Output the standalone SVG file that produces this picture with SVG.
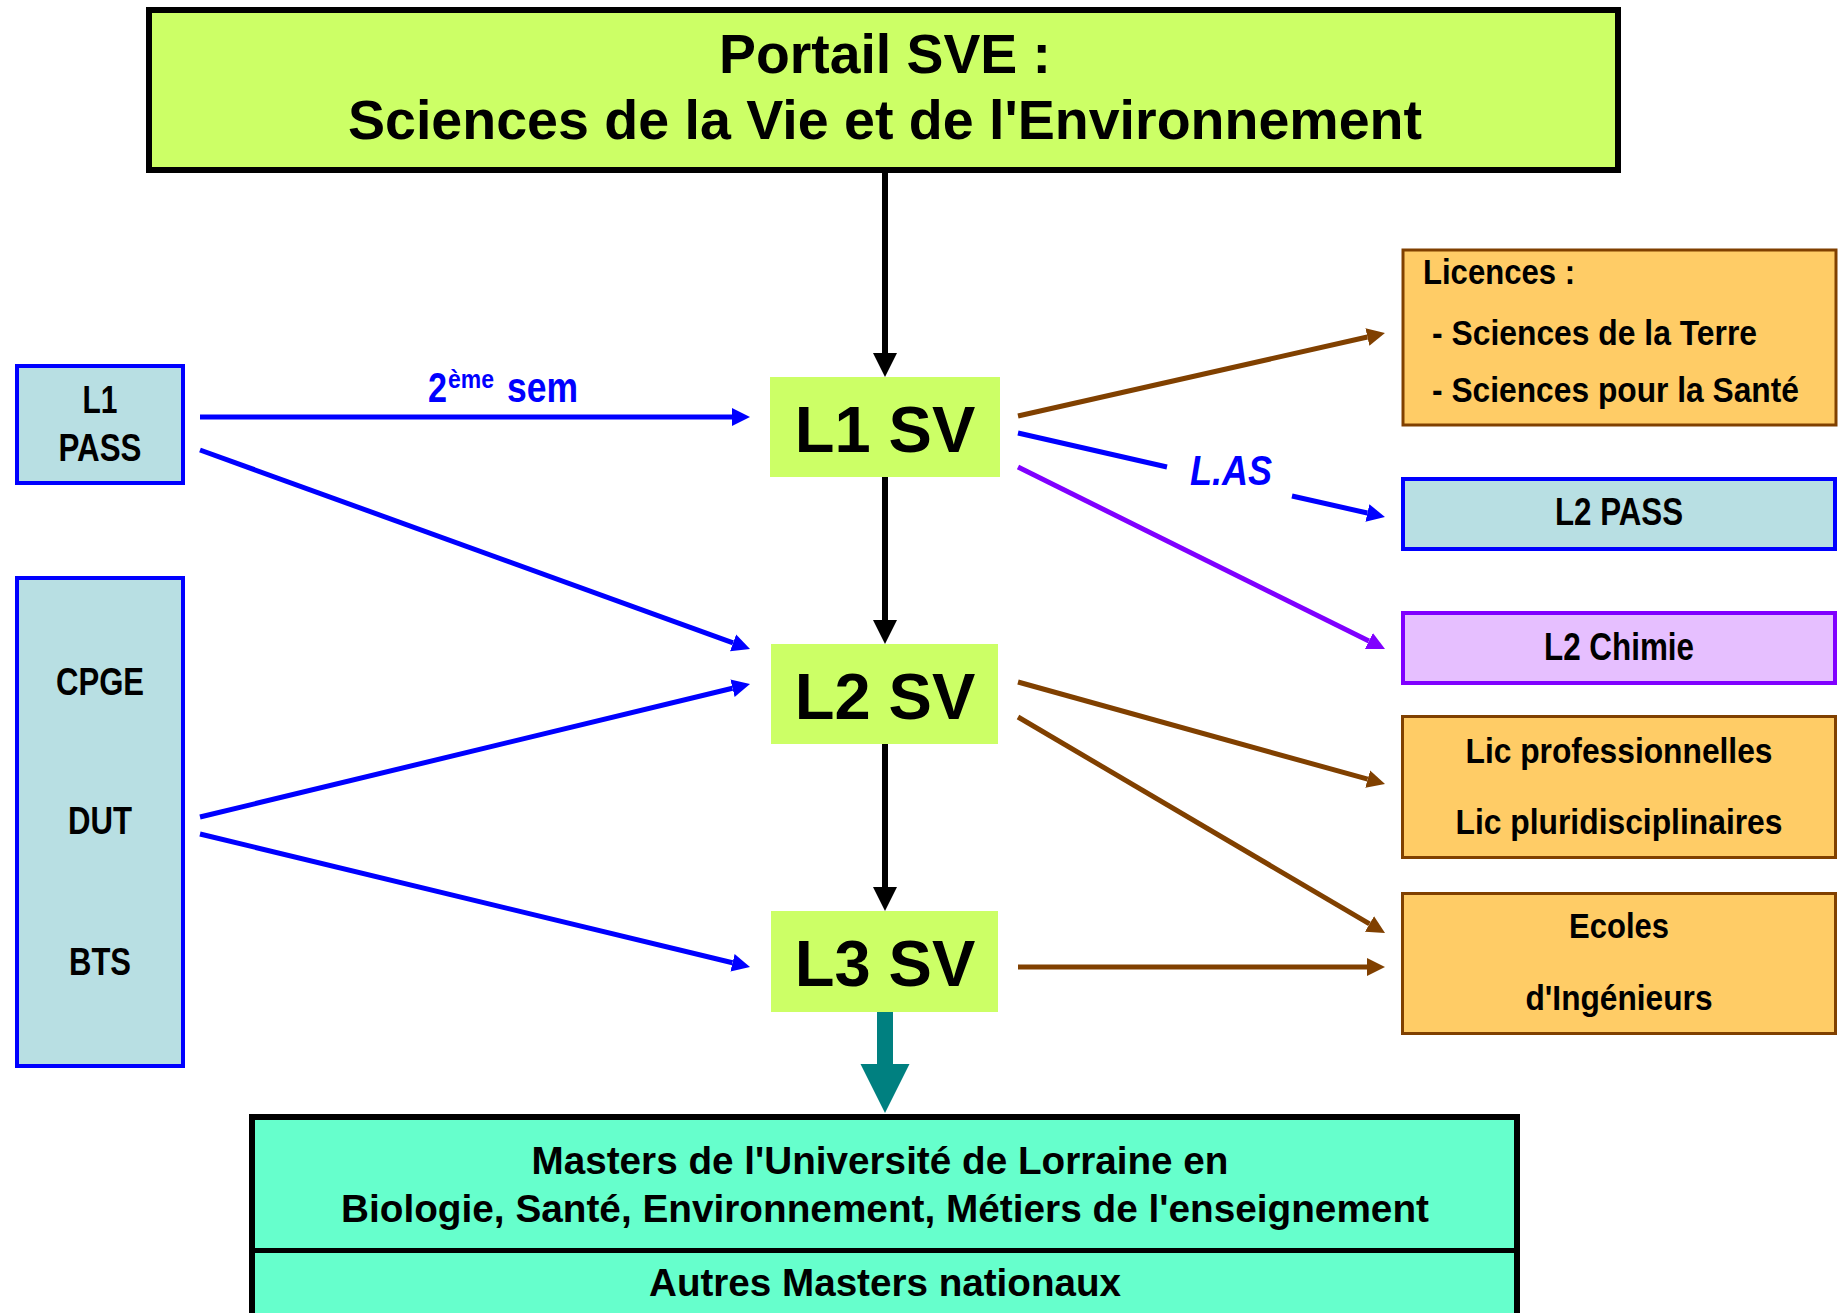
<svg xmlns="http://www.w3.org/2000/svg" width="1838" height="1313" viewBox="0 0 1838 1313">
<style>
.t{font-family:"Liberation Sans",Arial,sans-serif;font-weight:bold;fill:#000}
.n{font-family:"Liberation Sans Narrow","Arial Narrow","Liberation Sans",sans-serif;font-weight:bold;fill:#000}
.c{text-anchor:middle}
.green{fill:#CCFF66}
.orange{fill:#FFCC66;stroke:#804000;stroke-width:3}
.pale{fill:#B8DFE3;stroke:#0000FF;stroke-width:4}
.blk{stroke:#000;stroke-width:6;fill:none}
.blue{stroke:#0000FF;stroke-width:5;fill:none}
.brown{stroke:#804000;stroke-width:5;fill:none}
.purple{stroke:#8000FF;stroke-width:5;fill:none}
</style>
<defs>
<marker id="hk" markerUnits="userSpaceOnUse" viewBox="0 -13 25 26" refX="0" refY="0" markerWidth="25" markerHeight="26" orient="auto"><path d="M0,-12 L24,0 L0,12 Z" fill="#000"/></marker>
<marker id="hb" markerUnits="userSpaceOnUse" viewBox="0 -10 20 20" refX="0" refY="0" markerWidth="20" markerHeight="20" orient="auto"><path d="M0,-9 L18,0 L0,9 Z" fill="#0000FF"/></marker>
<marker id="hr" markerUnits="userSpaceOnUse" viewBox="0 -10 20 20" refX="0" refY="0" markerWidth="20" markerHeight="20" orient="auto"><path d="M0,-9 L18,0 L0,9 Z" fill="#804000"/></marker>
<marker id="hp" markerUnits="userSpaceOnUse" viewBox="0 -10 20 20" refX="0" refY="0" markerWidth="20" markerHeight="20" orient="auto"><path d="M0,-9 L18,0 L0,9 Z" fill="#8000FF"/></marker>
<marker id="ht" markerUnits="userSpaceOnUse" viewBox="0 -26 50 52" refX="0" refY="0" markerWidth="50" markerHeight="52" orient="auto"><path d="M0,-24.5 L49,0 L0,24.5 Z" fill="#008080"/></marker>
</defs>
<rect width="1838" height="1313" fill="#fff"/>

<g id="connectors">
<line class="blk" x1="885" y1="173" x2="885" y2="353" marker-end="url(#hk)"/>
<line class="blk" x1="885" y1="477" x2="885" y2="620" marker-end="url(#hk)"/>
<line class="blk" x1="885" y1="744" x2="885" y2="887" marker-end="url(#hk)"/>
<line x1="885" y1="1011" x2="885" y2="1064" stroke="#008080" stroke-width="16" marker-end="url(#ht)"/>
<line class="blue" x1="200" y1="417" x2="732" y2="417" marker-end="url(#hb)"/>
<line class="blue" x1="200" y1="450" x2="733.1" y2="642.9" marker-end="url(#hb)"/>
<line class="blue" x1="200" y1="817" x2="732.5" y2="688.2" marker-end="url(#hb)"/>
<line class="blue" x1="200" y1="834" x2="732.5" y2="962.8" marker-end="url(#hb)"/>
<line class="brown" x1="1018" y1="416" x2="1367.4" y2="337" marker-end="url(#hr)"/>
<line class="blue" x1="1018" y1="433" x2="1167" y2="467"/>
<line class="blue" x1="1292" y1="496" x2="1367.4" y2="513" marker-end="url(#hb)"/>
<line class="purple" x1="1018" y1="467" x2="1368.9" y2="641" marker-end="url(#hp)"/>
<line class="brown" x1="1018" y1="682" x2="1367.7" y2="779.2" marker-end="url(#hr)"/>
<line class="brown" x1="1018" y1="717" x2="1369.5" y2="923.9" marker-end="url(#hr)"/>
<line class="brown" x1="1018" y1="967" x2="1367" y2="967" marker-end="url(#hr)"/>
<text class="n" y="402" style="fill:#0000FF" font-size="42"><tspan x="428" textLength="19" lengthAdjust="spacingAndGlyphs">2</tspan><tspan x="448" y="388" font-size="26" textLength="46" lengthAdjust="spacingAndGlyphs">ème</tspan> <tspan x="507" y="402" textLength="71" lengthAdjust="spacingAndGlyphs">sem</tspan></text>
<text class="n c" x="1231" y="485" style="fill:#0000FF;font-style:italic" font-size="42" textLength="82" lengthAdjust="spacingAndGlyphs">L.AS</text>
</g>

<g id="portail">
<rect x="149" y="10" width="1469" height="160" fill="#CCFF66" stroke="#000" stroke-width="6"/>
<text class="t c" x="885" y="73" font-size="56" textLength="332" lengthAdjust="spacingAndGlyphs">Portail SVE :</text>
<text class="t c" x="885" y="139" font-size="56" textLength="1074" lengthAdjust="spacingAndGlyphs">Sciences de la Vie et de l'Environnement</text>
</g>

<g id="l1sv">
<rect class="green" x="770" y="377" width="230" height="100"/>
<text class="t c" x="885" y="452" font-size="65">L1 SV</text>
</g>
<g id="l2sv">
<rect class="green" x="771" y="644" width="227" height="100"/>
<text class="t c" x="885" y="719" font-size="65">L2 SV</text>
</g>
<g id="l3sv">
<rect class="green" x="771" y="911" width="227" height="101"/>
<text class="t c" x="885" y="986" font-size="65">L3 SV</text>
</g>

<g id="l1pass">
<rect class="pale" x="17" y="366" width="166" height="117"/>
<text class="n c" x="100" y="413" font-size="38" textLength="35" lengthAdjust="spacingAndGlyphs">L1</text>
<text class="n c" x="100" y="461" font-size="38" textLength="83" lengthAdjust="spacingAndGlyphs">PASS</text>
</g>

<g id="cpge">
<rect class="pale" x="17" y="578" width="166" height="488"/>
<text class="n c" x="100" y="695" font-size="38" textLength="88" lengthAdjust="spacingAndGlyphs">CPGE</text>
<text class="n c" x="100" y="834" font-size="38" textLength="64" lengthAdjust="spacingAndGlyphs">DUT</text>
<text class="n c" x="100" y="975" font-size="38" textLength="62" lengthAdjust="spacingAndGlyphs">BTS</text>
</g>

<g id="licences">
<rect class="orange" x="1403" y="250" width="433" height="175"/>
<text class="n" x="1423" y="284" font-size="35" textLength="152" lengthAdjust="spacingAndGlyphs">Licences :</text>
<text class="n" x="1432" y="345" font-size="35" textLength="325" lengthAdjust="spacingAndGlyphs">- Sciences de la Terre</text>
<text class="n" x="1432" y="402" font-size="35" textLength="367" lengthAdjust="spacingAndGlyphs">- Sciences pour la Santé</text>
</g>

<g id="l2pass">
<rect class="pale" x="1403" y="479" width="432" height="70"/>
<text class="n c" x="1619" y="525" font-size="38" textLength="128" lengthAdjust="spacingAndGlyphs">L2 PASS</text>
</g>

<g id="l2chimie">
<rect x="1403" y="613" width="432" height="70" fill="#E6BFFF" stroke="#8000FF" stroke-width="4"/>
<text class="n c" x="1619" y="660" font-size="38" textLength="150" lengthAdjust="spacingAndGlyphs">L2 Chimie</text>
</g>

<g id="licpro">
<rect class="orange" x="1402.5" y="716.5" width="433" height="141"/>
<text class="n c" x="1619" y="763" font-size="35" textLength="307" lengthAdjust="spacingAndGlyphs">Lic professionnelles</text>
<text class="n c" x="1619" y="834" font-size="35" textLength="327" lengthAdjust="spacingAndGlyphs">Lic pluridisciplinaires</text>
</g>

<g id="ecoles">
<rect class="orange" x="1402.5" y="893.5" width="433" height="140"/>
<text class="n c" x="1619" y="938" font-size="35" textLength="100" lengthAdjust="spacingAndGlyphs">Ecoles</text>
<text class="n c" x="1619" y="1010" font-size="35" textLength="187" lengthAdjust="spacingAndGlyphs">d'Ingénieurs</text>
</g>

<g id="masters">
<rect x="252" y="1117" width="1265" height="250" fill="#66FFCC" stroke="#000" stroke-width="6"/>
<line x1="249" y1="1250.5" x2="1520" y2="1250.5" stroke="#000" stroke-width="5"/>
<text class="t c" x="880" y="1174" font-size="39" textLength="697" lengthAdjust="spacingAndGlyphs">Masters de l'Université de Lorraine en</text>
<text class="t c" x="885" y="1222" font-size="39" textLength="1088" lengthAdjust="spacingAndGlyphs">Biologie, Santé, Environnement, Métiers de l'enseignement</text>
<text class="t c" x="885" y="1296" font-size="39" textLength="472" lengthAdjust="spacingAndGlyphs">Autres Masters nationaux</text>
</g>
</svg>
